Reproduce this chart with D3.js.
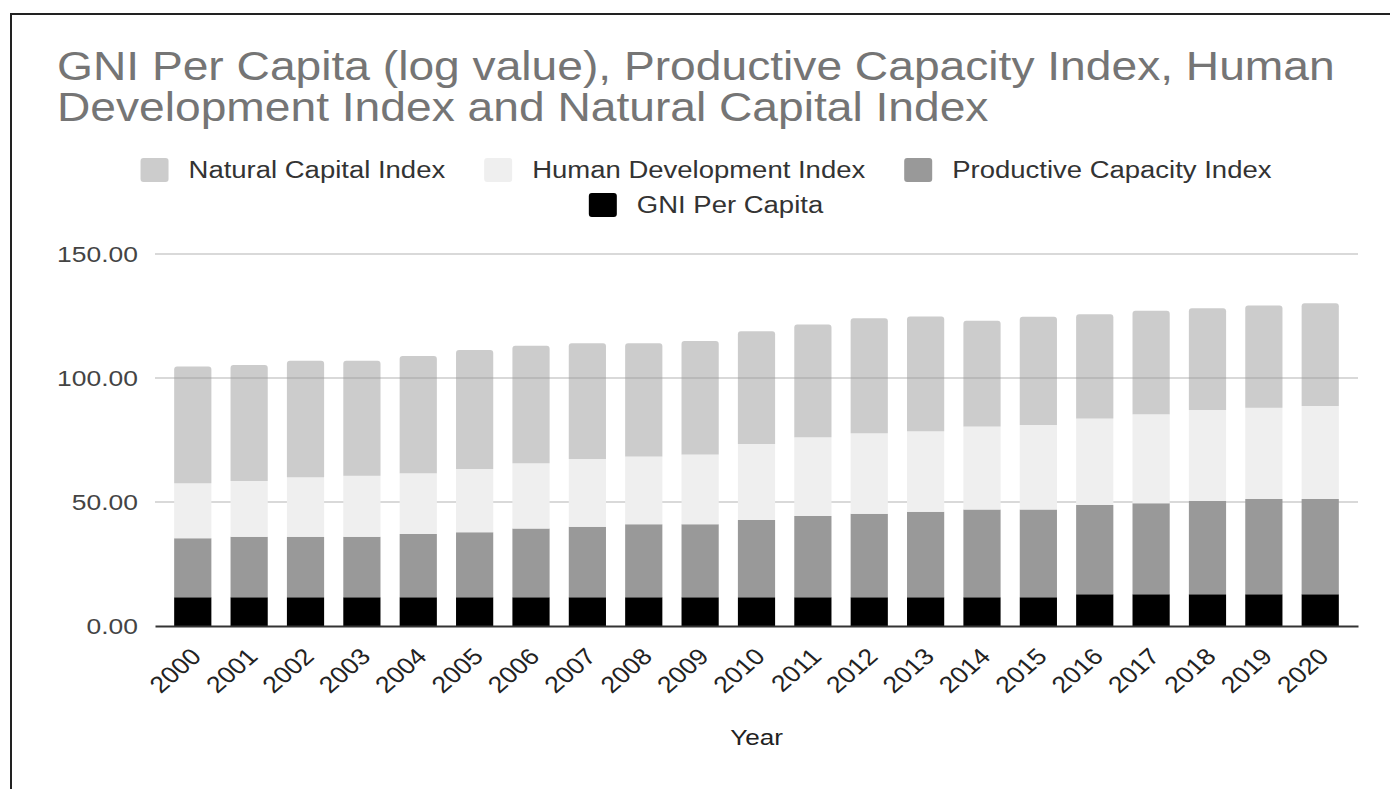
<!DOCTYPE html>
<html>
<head>
<meta charset="utf-8">
<script src="https://cdn.jsdelivr.net/npm/d3@7"></script>
<style>
  html, body { margin: 0; padding: 0; background: #fff; }
  svg { display: block; }
  text { font-family: "Liberation Sans", Arial, sans-serif; }
</style>
</head>
<body>
<svg id="chart" width="1390" height="789"></svg>
<script>
// ---------- data ----------
const years = ["2000","2001","2002","2003","2004","2005","2006","2007","2008","2009","2010",
               "2011","2012","2013","2014","2015","2016","2017","2018","2019","2020"];
const gniPerCapita        = [11.6,11.6,11.6,11.6,11.6,11.6,11.6,11.6,11.6,11.6,11.6,11.6,11.6,11.6,11.6,11.6,12.8,12.8,12.8,12.8,12.8];
const productiveCapacity  = [23.8,24.4,24.4,24.4,25.5,26.2,27.7,28.4,29.4,29.4,31.1,32.8,33.7,34.5,35.4,35.4,36.0,36.7,37.6,38.4,38.4];
const humanDevelopment    = [22.2,22.5,24.0,24.6,24.5,25.5,26.3,27.3,27.3,28.2,30.7,31.7,32.4,32.4,33.4,34.0,34.9,35.9,36.7,36.8,37.5];
const naturalCapital      = [47.0,46.7,47.0,46.4,47.3,48.0,47.4,46.7,45.7,45.7,45.5,45.5,46.4,46.3,42.7,43.7,42.0,41.7,41.0,41.2,41.4];
const seriesKeys   = ["gni","pci","hdi","nci"];
const seriesLabels = ["GNI Per Capita","Productive Capacity Index","Human Development Index","Natural Capital Index"];
const yTicks = [0, 50, 100, 150];
const titleLines = ["GNI Per Capita (log value), Productive Capacity Index, Human",
                    "Development Index and Natural Capital Index"];
const xTitle = "Year";

// ---------- style ----------
const SX = 1.16; // horizontal stretch of the reference
const colors = { gni: "#000000", pci: "#999999", hdi: "#efefef", nci: "#999999" };
const opac   = { gni: 1, pci: 1, hdi: 1, nci: 0.5 };
const FONT = '"Liberation Sans", Arial, sans-serif';

const svg = d3.select("#chart");

// frame (left & top border)
svg.append("line").attr("x1", 11).attr("x2", 1390).attr("y1", 14).attr("y2", 14)
  .attr("stroke", "#222").attr("stroke-width", 2);
svg.append("line").attr("x1", 11).attr("x2", 11).attr("y1", 13).attr("y2", 789)
  .attr("stroke", "#222").attr("stroke-width", 2);

// title
titleLines.forEach((t, i) => {
  svg.append("text")
    .attr("transform", `translate(57,${80 + i * 41}) scale(${SX},1)`)
    .attr("font-size", 39.8).attr("fill", "#757575").text(t);
});

// scales
const x = d3.scaleBand().domain(years).range([155, 1358]).padding(0.34);
const y = d3.scaleLinear().domain([0, 150]).range([626, 254]);

// data table
const table = years.map((yr, i) => ({
  year: yr, gni: gniPerCapita[i], pci: productiveCapacity[i],
  hdi: humanDevelopment[i], nci: naturalCapital[i]
}));
const stacked = d3.stack().keys(seriesKeys)(table);

// gridlines
svg.append("g").selectAll("line").data(yTicks.filter(d => d > 0)).join("line")
  .attr("x1", 155).attr("x2", 1358)
  .attr("y1", d => y(d)).attr("y2", d => y(d))
  .attr("stroke", "#cccccc").attr("stroke-width", 1.5);

// y axis
const yAxis = svg.append("g").attr("transform", "translate(155,0)")
  .call(d3.axisLeft(y).tickValues(yTicks).tickFormat(d3.format(".2f")).tickSize(0));
yAxis.select(".domain").remove();
yAxis.selectAll("text")
  .attr("x", 0).attr("dy", "0.35em")
  .attr("transform", `translate(-17,0) scale(${SX},1)`)
  .attr("font-family", FONT).attr("font-size", 22.8).attr("fill", "#444");

// bars
function topRounded(x0, y0, w, h, r) {
  r = Math.min(r, h, w / 2);
  return `M${x0},${y0 + h}V${y0 + r}Q${x0},${y0} ${x0 + r},${y0}H${x0 + w - r}Q${x0 + w},${y0} ${x0 + w},${y0 + r}V${y0 + h}Z`;
}
const layers = svg.append("g").selectAll("g").data(stacked).join("g")
  .attr("fill", d => colors[d.key]).attr("fill-opacity", d => opac[d.key]);
layers.selectAll("path").data(d => d.map(p => ({ key: d.key, p }))).join("path")
  .attr("d", d => {
    const x0 = x(d.p.data.year), w = x.bandwidth();
    const y0 = y(d.p[1]), h = y(d.p[0]) - y(d.p[1]);
    return topRounded(x0, y0, w, h, d.key === "nci" ? 3 : 0);
  });

// x axis
const xAxis = svg.append("g").attr("transform", `translate(0,${y(0)})`)
  .call(d3.axisBottom(x).tickSize(0).tickSizeOuter(0));
xAxis.select(".domain").attr("stroke", "#333").attr("stroke-width", 2);
xAxis.selectAll("text")
  .attr("x", 0).attr("y", 0).attr("dy", 0)
  .attr("text-anchor", "end")
  .attr("transform", `translate(10,32) scale(${SX},1) rotate(-45)`)
  .attr("font-family", FONT).attr("font-size", 23).attr("fill", "#222");

// x title
svg.append("text")
  .attr("transform", `translate(${(155 + 1358) / 2},745) scale(${SX},1)`)
  .attr("text-anchor", "middle").attr("font-size", 22.5).attr("fill", "#222")
  .text(xTitle);

// legend
const legendRows = [["nci", "hdi", "pci"], ["gni"]];
const legendCenter = 706;
legendRows.forEach((row, ri) => {
  const g = svg.append("g");
  const sqY = 158 + ri * 35, baseY = 178 + ri * 35;
  let cursor = 0;
  const items = [];
  row.forEach((k, j) => {
    const label = seriesLabels[seriesKeys.indexOf(k)];
    const item = g.append("g");
    item.append("rect").attr("x", 0).attr("y", sqY).attr("width", 28).attr("height", 24)
      .attr("rx", 3).attr("fill", colors[k]).attr("fill-opacity", opac[k]);
    const t = item.append("text").attr("transform", `translate(48,${baseY}) scale(${SX},1)`)
      .attr("font-size", 23.7).attr("fill", "#333").text(label);
    const w = 48 + t.node().getComputedTextLength() * SX;
    items.push({ item, w });
  });
  const gap = 39;
  const total = d3.sum(items, d => d.w) + gap * (items.length - 1);
  let start = legendCenter - total / 2;
  items.forEach(d => { d.item.attr("transform", `translate(${start},0)`); start += d.w + gap; });
});
</script>
</body>
</html>
